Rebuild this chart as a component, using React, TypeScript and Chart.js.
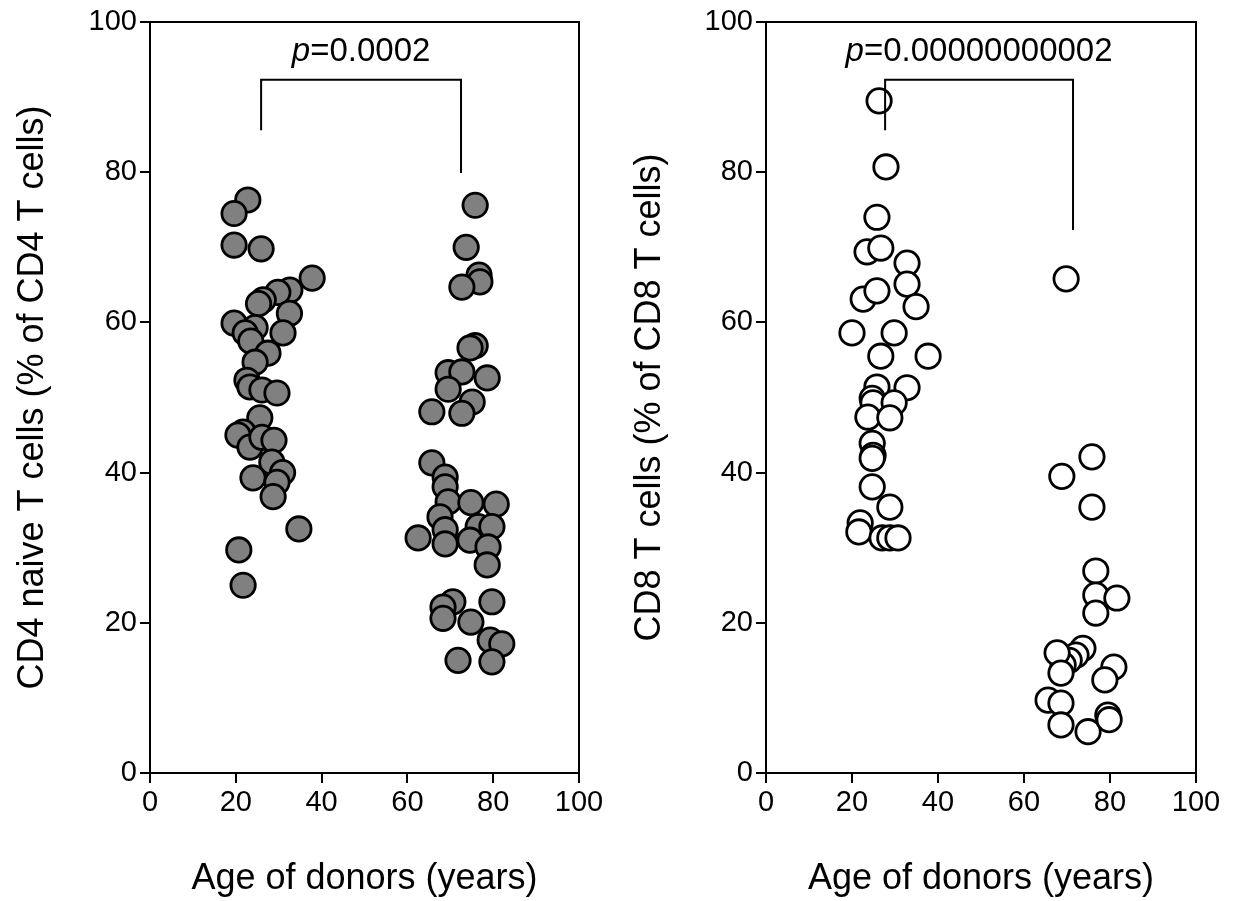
import React, { useEffect, useRef } from "react";
import { Chart, registerables } from "chart.js";

Chart.register(...registerables);

const FONT = "'Liberation Sans', Arial, sans-serif";

// ---------- Data: CD4 naive T cells (% of CD4 T cells) ----------
const cd4YoungAge = [22.8, 19.6, 19.6, 25.9, 37.8, 32.6, 29.8, 26.4, 25.3, 32.5, 19.6, 24.5, 22.2, 31.0, 23.5, 27.5, 24.5, 22.6, 23.3, 26.1, 29.6, 25.6, 21.7, 20.5, 23.3, 26.1, 28.9, 28.4, 30.9, 24.0, 29.6, 28.7, 34.7, 20.7, 21.7];
const cd4YoungPct = [76.3, 74.5, 70.3, 69.8, 65.9, 64.3, 64.0, 63.0, 62.5, 61.2, 59.9, 59.3, 58.6, 58.6, 57.5, 55.9, 54.7, 52.3, 51.4, 51.0, 50.6, 47.3, 45.4, 45.0, 43.4, 44.7, 44.3, 41.4, 40.0, 39.3, 38.7, 36.8, 32.5, 29.7, 25.0];
const cd4OldAge = [75.8, 73.7, 76.7, 76.9, 72.7, 75.8, 74.6, 69.5, 72.7, 78.6, 69.5, 75.1, 65.7, 72.7, 65.7, 68.8, 68.8, 69.5, 74.8, 80.7, 67.6, 76.5, 79.7, 62.5, 68.8, 68.8, 74.6, 78.8, 78.6, 70.6, 68.3, 68.3, 79.7, 74.8, 79.3, 82.0, 71.8, 79.7];
const cd4OldPct = [75.6, 70.0, 66.3, 65.4, 64.7, 56.9, 56.6, 53.3, 53.4, 52.6, 51.1, 49.4, 48.1, 47.9, 41.3, 39.4, 38.1, 36.1, 36.0, 35.8, 34.1, 32.8, 32.8, 31.3, 32.4, 30.5, 31.0, 30.1, 27.7, 22.8, 22.1, 20.6, 22.8, 20.1, 17.7, 17.2, 15.0, 14.8];

// ---------- Data: CD8 T cells (% of CD8 T cells) ----------
const cd8YoungAge = [26.3, 27.9, 25.8, 23.5, 26.7, 32.8, 32.8, 22.6, 25.8, 34.9, 20.0, 29.8, 26.7, 37.7, 25.8, 32.8, 24.7, 24.9, 29.8, 23.7, 28.8, 24.7, 24.9, 24.7, 24.7, 28.8, 21.9, 21.6, 27.0, 28.8, 30.7];
const cd8YoungPct = [89.5, 80.7, 74.0, 69.4, 69.9, 67.9, 65.1, 63.1, 64.2, 62.1, 58.6, 58.6, 55.5, 55.5, 51.4, 51.3, 49.9, 49.3, 49.3, 47.4, 47.3, 43.9, 42.3, 41.9, 38.1, 35.4, 33.3, 32.1, 31.3, 31.3, 31.3];
const cd8OldAge = [69.8, 75.8, 68.8, 75.8, 76.7, 76.7, 81.6, 76.7, 73.7, 72.1, 70.5, 69.1, 67.7, 68.6, 80.9, 78.8, 65.6, 68.6, 68.6, 74.9, 79.5, 79.8];
const cd8OldPct = [65.8, 42.1, 39.5, 35.4, 26.9, 23.7, 23.3, 21.3, 16.6, 15.7, 15.0, 14.4, 16.0, 13.3, 14.1, 12.4, 9.7, 9.3, 6.4, 5.5, 7.7, 7.1];

// ---------- Axis ticks / labels ----------
const axisMin = 0;
const axisMax = 100;
const tickStep = 20;
const xTitle = "Age of donors (years)";
const cd4Title = "CD4 naive T cells (% of CD4 T cells)";
const cd8Title = "CD8 T cells (% of CD8 T cells)";

// ---------- Significance brackets (data units) ----------
const cd4BracketX = [25.9, 72.5];
const cd4BracketLegs = [85.6, 79.9];
const cd4PValue = "=0.0002";
const cd8BracketX = [27.7, 71.4];
const cd8BracketLegs = [85.6, 72.3];
const cd8PValue = "=0.00000000002";
const bracketTop = 92.3;
const pLabelY = 96.0;

const framePlugin = {
  id: "frame",
  beforeDatasetsDraw(chart: any) {
    const { ctx, chartArea: a } = chart;
    ctx.save();
    ctx.strokeStyle = "#000";
    ctx.lineWidth = 2;
    ctx.strokeRect(a.left, a.top, a.right - a.left, a.bottom - a.top);
    ctx.restore();
  },
};

function makeBracketPlugin(bx: number[], legs: number[], pText: string) {
  return {
    id: "bracket",
    afterDatasetsDraw(chart: any) {
      const xs = chart.scales.x;
      const ys = chart.scales.y;
      const ctx = chart.ctx;
      ctx.save();
      ctx.strokeStyle = "#000";
      ctx.lineWidth = 2;
      ctx.beginPath();
      ctx.moveTo(xs.getPixelForValue(bx[0]), ys.getPixelForValue(legs[0]));
      ctx.lineTo(xs.getPixelForValue(bx[0]), ys.getPixelForValue(bracketTop));
      ctx.lineTo(xs.getPixelForValue(bx[1]), ys.getPixelForValue(bracketTop));
      ctx.lineTo(xs.getPixelForValue(bx[1]), ys.getPixelForValue(legs[1]));
      ctx.stroke();
      const italic = `italic 33px ${FONT}`;
      const normal = `33px ${FONT}`;
      ctx.font = italic;
      const w1 = ctx.measureText("p").width;
      ctx.font = normal;
      const w2 = ctx.measureText(pText).width;
      const cx = (xs.getPixelForValue(bx[0]) + xs.getPixelForValue(bx[1])) / 2;
      const cy = ys.getPixelForValue(pLabelY);
      const sx = cx - (w1 + w2) / 2;
      ctx.fillStyle = "#000";
      ctx.textAlign = "left";
      ctx.textBaseline = "middle";
      ctx.font = italic;
      ctx.fillText("p", sx, cy);
      ctx.font = normal;
      ctx.fillText(pText, sx + w1, cy);
      ctx.restore();
    },
  };
}

type PanelProps = {
  left: number;
  ages: number[][];
  values: number[][];
  fill: string;
  yTitle: string;
  yAxisWidth: number;
  padRight: number;
  yTitlePad: number;
  bracketX: number[];
  bracketLegs: number[];
  pText: string;
};

function Panel(props: PanelProps) {
  const ref = useRef<HTMLCanvasElement | null>(null);
  useEffect(() => {
    if (!ref.current) return;
    const points: { x: number; y: number }[] = [];
    props.ages.forEach((arr, gi) => {
      arr.forEach((a, i) => points.push({ x: a, y: props.values[gi][i] }));
    });
    const tickFont = { family: FONT, size: 29 };
    const grid = {
      display: true,
      drawOnChartArea: false,
      drawTicks: true,
      tickLength: 10,
      tickWidth: 2,
      color: "#000",
      lineWidth: 2,
    };
    const chart = new Chart(ref.current, {
      type: "scatter",
      data: {
        datasets: [
          {
            data: points,
            backgroundColor: props.fill,
            borderColor: "#000",
            borderWidth: 2.8,
            pointRadius: 12.2,
            pointHoverRadius: 12.2,
            clip: false as any,
          },
        ],
      },
      options: {
        responsive: false,
        animation: false,
        events: [],
        layout: { padding: { left: 0, top: 22, right: props.padRight, bottom: 0 } },
        plugins: { legend: { display: false }, tooltip: { enabled: false } },
        scales: {
          x: {
            type: "linear",
            min: axisMin,
            max: axisMax,
            ticks: { stepSize: tickStep, color: "#000", font: tickFont, padding: 3, maxRotation: 0 },
            grid,
            border: { display: false },
            title: {
              display: true,
              text: xTitle,
              color: "#000",
              font: { family: FONT, size: 36, lineHeight: 1.2 },
              padding: { top: 0, bottom: 0 },
            },
            afterFit: (s: any) => {
              s.height = 128;
            },
          },
          y: {
            type: "linear",
            min: axisMin,
            max: axisMax,
            ticks: { stepSize: tickStep, color: "#000", font: tickFont, padding: 3 },
            grid,
            border: { display: false },
            title: {
              display: true,
              text: props.yTitle,
              color: "#000",
              font: { family: FONT, size: 36, lineHeight: 1.2 },
              padding: { top: props.yTitlePad, bottom: 0 },
            },
            afterFit: (s: any) => {
              s.width = props.yAxisWidth;
            },
          },
        },
      },
      plugins: [framePlugin, makeBracketPlugin(props.bracketX, props.bracketLegs, props.pText)],
    } as any);
    return () => chart.destroy();
  }, []);
  return (
    <canvas
      ref={ref}
      width={619}
      height={901}
      style={{ position: "absolute", left: props.left, top: 0, width: 619, height: 901 }}
    />
  );
}

export default function App() {
  return (
    <div
      style={{
        position: "absolute",
        left: 0,
        top: 0,
        width: 1238,
        height: 901,
        background: "#fff",
        overflow: "hidden",
      }}
    >
      <Panel
        left={0}
        ages={[cd4YoungAge, cd4OldAge]}
        values={[cd4YoungPct, cd4OldPct]}
        fill="#808080"
        yTitle={cd4Title}
        yAxisWidth={150}
        padRight={40}
        yTitlePad={11}
        bracketX={cd4BracketX}
        bracketLegs={cd4BracketLegs}
        pText={cd4PValue}
      />
      <Panel
        left={619}
        ages={[cd8YoungAge, cd8OldAge]}
        values={[cd8YoungPct, cd8OldPct]}
        fill="#ffffff"
        yTitle={cd8Title}
        yAxisWidth={147}
        padRight={42}
        yTitlePad={9}
        bracketX={cd8BracketX}
        bracketLegs={cd8BracketLegs}
        pText={cd8PValue}
      />
    </div>
  );
}
